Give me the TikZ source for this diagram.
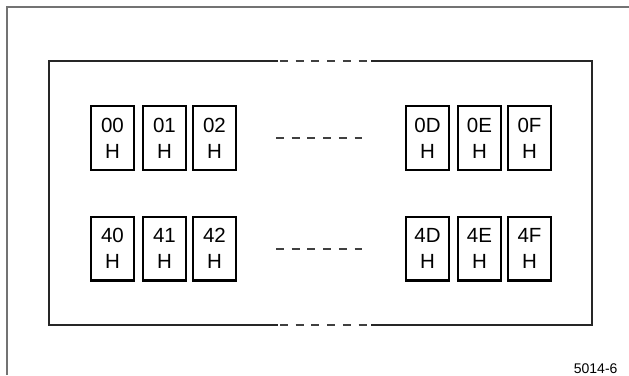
\documentclass[tikz,border=0pt]{standalone}
\usepackage{fontspec}
\setmainfont{Liberation Sans}
\begin{document}
\begin{tikzpicture}[x=1pt,y=-1pt,
  cell/.style={draw,line width=2.4pt,inner sep=0pt,minimum width=42.6pt,minimum height=63.6pt,align=center,font=\fontsize{20.5}{25.7}\selectfont},
  panel/.style={line width=1.2pt,black!85},
  gap/.style={line width=1.2pt,black!75,dash pattern=on 8pt off 7.7pt}]
\useasboundingbox (0,0) rectangle (629,375);
\draw[line width=1.5pt,black!55] (7,375) -- (7,7) -- (629,7);
\draw[panel] (278,61) -- (49,61) -- (49,325) -- (278,325);
\draw[panel] (371,61) -- (592,61) -- (592,325) -- (371,325);
\draw[gap] (280,61) -- (368,61);
\draw[gap] (280,325) -- (368,325);
\foreach\r/\y/\d in {0/138/138,4/248.5/249} {
  \foreach\c/\x in {0/112.5,1/164.5,2/214.5,D/427.5,E/479.5,F/529.5} {
    \node[cell] (B\r\c) at (\x,\y) {\r\c\\H};
  }
  \draw[gap] (276,\d) -- (362,\d);
}
\node[anchor=base east,font=\fontsize{14}{16}\selectfont] (fig) at (621,373) {5014-6};
\end{tikzpicture}
\end{document}
